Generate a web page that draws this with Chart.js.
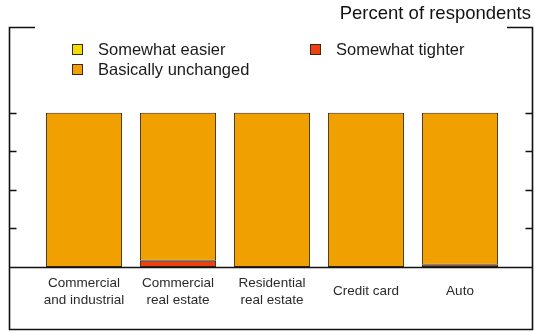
<!DOCTYPE html>
<html>
<head>
<meta charset="utf-8">
<script src="https://cdn.jsdelivr.net/npm/chart.js@4/dist/chart.umd.min.js"></script>
<style>
  html, body { margin: 0; padding: 0; background: #fff; }
  #wrap { width: 535px; height: 331px; }
</style>
</head>
<body>
<div id="wrap"><canvas id="chart" width="535" height="331"></canvas></div>
<script>
// Catégories et séries (pourcentage de répondants)
const categories = [
  ["Commercial", "and industrial"],
  ["Commercial", "real estate"],
  ["Residential", "real estate"],
  "Credit card",
  "Auto",
];
const somewhatTighter = [0, 4, 0, 0, 1.5];
const somewhatEasier = [0, 0, 0, 0, 0];
const basicallyUnchanged = [100, 96, 100, 100, 98.5];
const yTicks = [0, 25, 50, 75, 100];

const COL_EASIER = "#f2dc00";
const COL_UNCHANGED = "#f0a000";
const COL_TIGHTER = "#ee4010";
const EDGE = "#3a2a12";
const FONT = "'Liberation Sans', Arial, sans-serif";

// Cadre, graduations, titre et légende dessinés à la main
const framePlugin = {
  id: "frame",
  afterDraw(chart) {
    const ctx = chart.ctx;
    const y = chart.scales.y;
    const L = 9.5, R = 532.5, T = 27.5, B = 329.5;
    ctx.save();
    ctx.strokeStyle = "#111";
    ctx.lineWidth = 1.6;
    ctx.beginPath();
    ctx.moveTo(35, T); ctx.lineTo(L, T); ctx.lineTo(L, B);
    ctx.lineTo(R, B); ctx.lineTo(R, T); ctx.lineTo(507, T);
    ctx.stroke();

    // ligne de base et graduations
    ctx.lineWidth = 1.4;
    ctx.beginPath();
    const y0 = Math.round(y.getPixelForValue(0)) + 0.5;
    ctx.moveTo(L, y0); ctx.lineTo(R, y0);
    yTicks.forEach((v) => {
      const py = Math.round(y.getPixelForValue(v)) + 0.5;
      ctx.moveTo(L, py); ctx.lineTo(L + 7, py);
      ctx.moveTo(R - 7, py); ctx.lineTo(R, py);
    });
    ctx.stroke();

    // titre
    ctx.fillStyle = "#111";
    ctx.font = "18.5px " + FONT;
    ctx.textAlign = "right";
    ctx.textBaseline = "middle";
    ctx.fillText("Percent of respondents", 531, 14);

    // légende
    const items = [
      { ds: 2, x: 72, y: 44 },
      { ds: 0, x: 310, y: 44 },
      { ds: 1, x: 72, y: 64 },
    ];
    ctx.font = "16.5px " + FONT;
    ctx.textAlign = "left";
    items.forEach((it) => {
      const d = chart.data.datasets[it.ds];
      ctx.fillStyle = d.backgroundColor;
      ctx.fillRect(it.x, it.y, 11, 11);
      ctx.lineWidth = 1;
      ctx.strokeStyle = EDGE;
      ctx.strokeRect(it.x + 0.5, it.y + 0.5, 10, 10);
      ctx.fillStyle = "#1a1a1a";
      ctx.fillText(d.label, it.x + 26, it.y + 6);
    });
    ctx.restore();
  },
};

function makeDataset(label, data, color) {
  return {
    label: label,
    data: data,
    backgroundColor: color,
    borderColor: EDGE,
    borderWidth: 1,
    borderSkipped: false,
    barPercentage: 0.81,
    categoryPercentage: 1,
  };
}

new Chart(document.getElementById("chart"), {
  type: "bar",
  data: {
    labels: categories,
    datasets: [
      makeDataset("Somewhat tighter", somewhatTighter, COL_TIGHTER),
      makeDataset("Basically unchanged", basicallyUnchanged, COL_UNCHANGED),
      makeDataset("Somewhat easier", somewhatEasier, COL_EASIER),
    ],
  },
  options: {
    responsive: false,
    animation: false,
    layout: { padding: { left: 37, right: 28, top: 28, bottom: 0 } },
    plugins: {
      legend: { display: false },
      tooltip: { enabled: false },
    },
    scales: {
      x: {
        stacked: true,
        border: { display: false },
        grid: { display: false, drawTicks: false },
        afterFit(scale) {
          scale.height = 64;
        },
        ticks: {
          color: "#2a2a2a",
          font: { family: FONT, size: 13.5, lineHeight: 1.25 },
          padding: 16,
          maxRotation: 0,
          autoSkip: false,
          crossAlign: "center",
        },
      },
      y: {
        stacked: true,
        display: false,
        min: 0,
        max: 155,
      },
    },
  },
  plugins: [framePlugin],
});
</script>
</body>
</html>
